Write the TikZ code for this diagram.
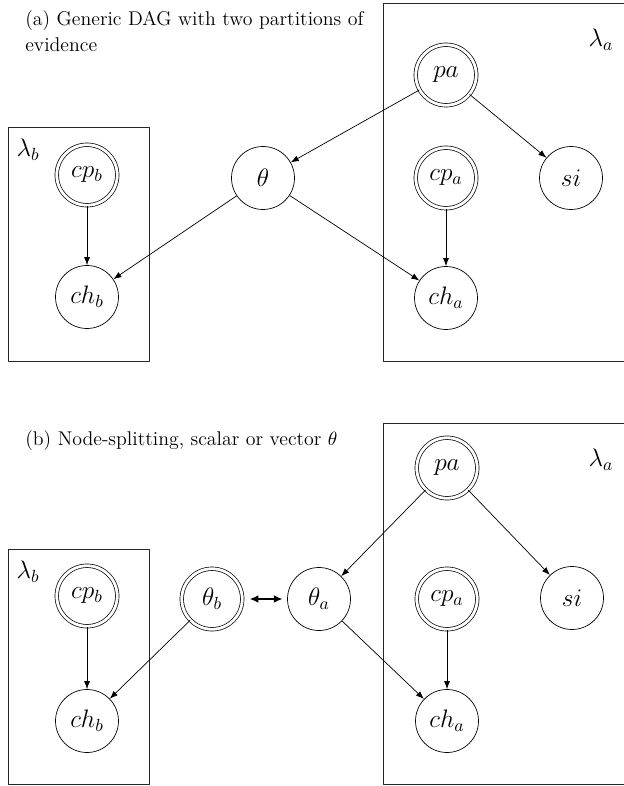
\documentclass[tikz,border=0pt]{standalone}
\usetikzlibrary{arrows.meta}
\begin{document}
\begin{tikzpicture}[x=0.02cm, y=-0.02cm, line join=round, >={Latex[length=4.6pt,width=3.4pt]},
  font=\fontsize{14.5}{17}\selectfont,
  rv/.style={circle, draw, minimum size=1.26cm, inner sep=0pt},
  ev/.style={rv, double, double distance=1.6pt, minimum size=1.21cm},
  plate/.style={draw, line width=0.5pt, black!85},
  ttl/.style={anchor=north west, inner sep=0pt, align=left, font=\fontsize{11.3}{14.7}\selectfont}]
\useasboundingbox (0,0) rectangle (623,786);
% (a) generic DAG
\node[ttl] (ta) at (25,10) {(a) Generic DAG with two partitions of\\evidence};
\draw[plate] (8,127) rectangle (149,361);
\draw[plate] (383,3) rectangle (640,361);
\node (la) at (601,40) {$\lambda_a$};
\node (lb) at (28,150) {$\lambda_b$};
\node[ev] (pa) at (446,75) {$pa$};
\node[rv] (th) at (263,178) {$\theta$};
\node[ev] (cpa) at (446,178) {$cp_a$};
\node[rv] (si) at (571,178) {$si$};
\node[rv] (cha) at (446,298) {$ch_a$};
\node[ev] (cpb) at (87,175) {$cp_b$};
\node[rv] (chb) at (87,297) {$ch_b$};
\draw[->] (pa) -- (th);
\draw[->] (pa) -- (si);
\draw[->] (th) -- (chb);
\draw[->] (th) -- (cha);
\draw[->] (cpa) -- (cha);
\draw[->] (cpb) -- (chb);
% (b) node-splitting
\node[ttl] (tb) at (25,430) {(b) Node-splitting, scalar or vector $\theta$};
\draw[plate] (8,549) rectangle (149,784);
\draw[plate] (383,423) rectangle (640,784);
\node (la2) at (601,460) {$\lambda_a$};
\node (lb2) at (28,572) {$\lambda_b$};
\node[ev] (pa2) at (447,468) {$pa$};
\node[ev] (thb) at (212,599) {$\theta_b$};
\node[rv] (tha) at (319,599) {$\theta_a$};
\node[ev] (cpa2) at (447,599) {$cp_a$};
\node[rv] (si2) at (572,598) {$si$};
\node[ev] (cpb2) at (87,596) {$cp_b$};
\node[rv] (chb2) at (87,721) {$ch_b$};
\node[rv] (cha2) at (447,721) {$ch_a$};
\draw[->] (pa2) -- (tha);
\draw[->] (pa2) -- (si2);
\draw[->] (tha) -- (cha2);
\draw[->] (thb) -- (chb2);
\draw[->] (cpa2) -- (cha2);
\draw[->] (cpb2) -- (chb2);
\draw[{Latex[length=5pt,width=4.5pt]}-{Latex[length=5pt,width=4.5pt]}, line width=1.1pt,
  shorten <=4pt, shorten >=2.6pt] (thb) -- (tha);
\end{tikzpicture}
\end{document}
